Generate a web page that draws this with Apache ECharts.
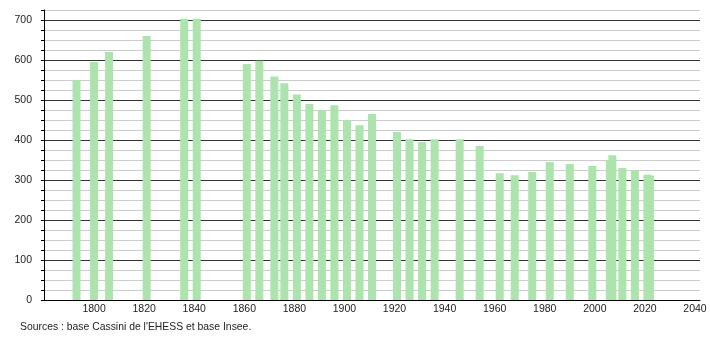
<!doctype html>
<html lang="fr">
<head>
  <meta charset="utf-8">
  <title>Évolution de la population</title>
  <script src="https://cdn.jsdelivr.net/npm/echarts@6/dist/echarts.min.js"></script>
  <style>
    html, body { margin: 0; padding: 0; background: #fff; }
    #chart { width: 710px; height: 340px; }
  </style>
</head>
<body>
<div id="chart"></div>
<script>
  // années de recensement et population
  var years = [1793, 1800, 1806, 1821, 1836, 1841, 1861, 1866, 1872, 1876,
               1881, 1886, 1891, 1896, 1901, 1906, 1911, 1921, 1926, 1931,
               1936, 1946, 1954, 1962, 1968, 1975, 1982, 1990, 1999, 2006,
               2007, 2011, 2016, 2021, 2022];
  var population = [550, 595, 620, 660, 703, 703, 590, 598, 559, 542,
                    514, 490, 475, 487, 449, 437, 465, 420, 402, 395,
                    402, 402, 385, 317, 312, 320, 345, 340, 335, 350,
                    362, 330, 324, 313, 311];
  var sourceText = "Sources : base Cassini de l'EHESS et base Insee.";

  var data = [];
  for (var i = 0; i < years.length; i++) {
    data.push([years[i], population[i]]);
  }

  var myChart = echarts.init(document.getElementById('chart'));
  var option = {
    backgroundColor: '#fff',
    animation: false,
    grid: { left: 44, right: 10, top: 10, bottom: 40 },
    xAxis: {
      type: 'value',
      min: 1780,
      max: 2042,
      interval: 20,
      axisLine: { show: true, lineStyle: { color: '#000', width: 1 } },
      axisTick: { show: false },
      splitLine: { show: false },
      axisLabel: {
        margin: 4,
        fontFamily: 'Liberation Sans, Arial, sans-serif',
        fontSize: 10.5,
        color: '#222',
        formatter: function (v) {
          return (v % 20 === 0 && v > 1780) ? String(v) : '';
        }
      }
    },
    yAxis: {
      type: 'value',
      min: 0,
      max: 725,
      interval: 25,
      axisLine: { show: true, lineStyle: { color: '#000', width: 1 } },
      axisTick: { show: true, length: 3, lineStyle: { color: '#000' } },
      splitLine: {
        show: true,
        lineStyle: { color: ['#333', '#cccccc', '#cccccc', '#cccccc'], width: 1 }
      },
      axisLabel: {
        margin: 12,
        fontFamily: 'Liberation Sans, Arial, sans-serif',
        fontSize: 10.5,
        color: '#222',
        formatter: function (v) {
          return v % 100 === 0 ? String(v) : '';
        }
      }
    },
    series: [{
      type: 'bar',
      data: data,
      barWidth: 8,
      itemStyle: { color: '#ade3ad' }
    }],
    graphic: [{
      type: 'text',
      left: 20,
      top: 322,
      style: {
        text: sourceText,
        fontFamily: 'Liberation Sans, Arial, sans-serif',
        fontSize: 10.4,
        fill: '#222'
      }
    }]
  };
  myChart.setOption(option);
</script>
</body>
</html>
